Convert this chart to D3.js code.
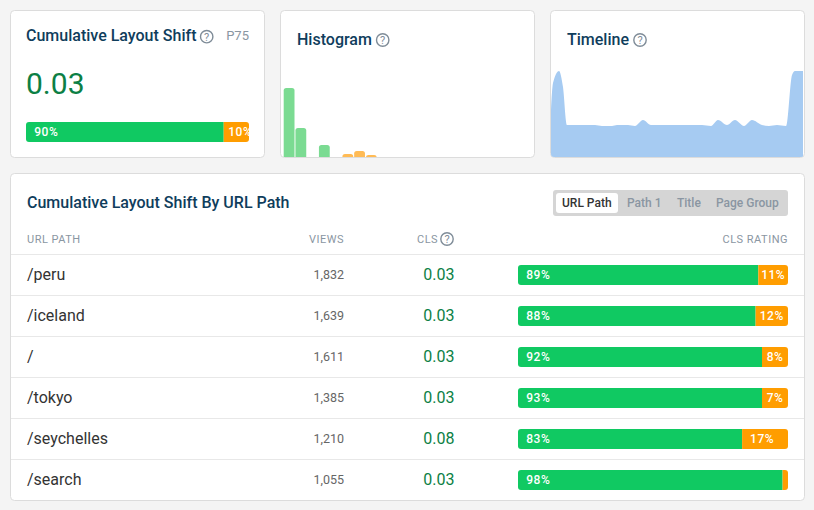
<!DOCTYPE html>
<html>
<head>
<meta charset="utf-8">
<script src="https://cdn.jsdelivr.net/npm/d3@7"></script>
<style>
body{margin:0;background:#f4f4f4;font-family:Roboto,sans-serif;overflow:hidden}
svg{display:block}
</style>
</head>
<body>
<div id="chart"></div>
<script>
// table rows
var paths=['/peru','/iceland','/','/tokyo','/seychelles','/search'];
var views=[1832,1639,1611,1385,1210,1055];
var cls=[0.03,0.03,0.03,0.03,0.08,0.03];
var goodPct=[89,88,92,93,83,98];
var poorPct=[11,12,8,7,17,2];
var tableHeaders=['URL PATH','VIEWS','CLS','CLS RATING'];
var toggleLabels=['URL Path','Path 1','Title','Page Group'];

// summary card
var summaryValue=0.03;
var summaryGood=90;
var summaryPoor=10;

// histogram, bin index and share of views
var histBins=[0,1,3,5,6,7];
var histValues=[69,29,12,3,6,2];
var histColors=['good','good','good','poor','poor','poor'];

// timeline
var timeX=[0,2,8,12,16,44,51,61,66,77,84,92,100,151,160,167,176,184,193,201,211,218,226,235,241,244,252];
var timeV=[47,74,86,70,32,32,31,31,32,32,31,37,32,32,31,37,32,37,31,37,32,31,32,31,82,86,86];

var green='#10c962', orange='#ff9d00', title='#0f3d5c', gray='#8a96a2', dark='#333';

var sv=d3.select('#chart').append('svg').attr('width',814).attr('height',510);
var defs=sv.append('defs');

function card(x,y,w,h,id){
    sv.append('rect').attr('x',x-0.5).attr('y',y-0.5).attr('width',w).attr('height',h).attr('rx',4)
        .attr('fill','#fff').attr('stroke','#dcdcdc');
    defs.append('clipPath').attr('id',id).append('rect').attr('x',x).attr('y',y).attr('width',w-1).attr('height',h-1).attr('rx',3);
}

function helpIcon(cx,cy){
    var g=sv.append('g');
    g.append('circle').attr('cx',cx).attr('cy',cy).attr('r',6.2).attr('fill','none').attr('stroke','#7f8c98').attr('stroke-width',1.4);
    g.append('text').attr('x',cx).attr('y',cy+3.8).attr('text-anchor','middle').attr('font-size',11).attr('fill','#7f8c98').text('?');
}

function heading(x,y,txt){
    return sv.append('text').attr('x',x).attr('y',y).attr('font-size',16).attr('font-weight',500)
        .attr('fill',title).text(txt);
}

// stacked rating bar, orange keeps a minimum width so its label fits
function ratingBar(id,x0,x1,y,good,poor,minPoor,padPoor){
    var x=d3.scaleLinear().domain([0,100]).range([x0,x1]);
    var wPoor=x(poor)-x(0);
    if(poor>=5) wPoor=Math.max(wPoor,minPoor);
    var split=x1-wPoor;
    defs.append('clipPath').attr('id',id).append('rect').attr('x',x0).attr('y',y).attr('width',x1-x0).attr('height',20).attr('rx',3);
    var g=sv.append('g').attr('clip-path','url(#'+id+')');
    g.append('rect').attr('x',x0).attr('y',y).attr('width',split-x0).attr('height',20).attr('fill',green);
    g.append('rect').attr('x',split).attr('y',y).attr('width',wPoor).attr('height',20).attr('fill',orange);
    g.append('text').attr('x',x0+8.3).attr('y',y+14).attr('font-size',12).attr('font-weight',500).attr('letter-spacing',0.5).attr('fill','#fff').text(good+'%');
    if(poor>=5){
        var t=g.append('text').attr('x',split).attr('y',y+14).attr('font-size',12).attr('font-weight',500).attr('letter-spacing',0.5).attr('fill','#fff').text(poor+'%');
        var tw=t.node().getComputedTextLength();
        var pad=padPoor!==undefined?padPoor:(wPoor>=40?8:(wPoor-tw)/2);
        t.attr('x',split+pad);
    }
}

// --- summary card
card(11,11,254,147,'c1');
heading(26,41,'Cumulative Layout Shift');
helpIcon(206.7,36.7);
sv.append('text').attr('x',249).attr('y',40).attr('text-anchor','end').attr('font-size',13).attr('fill',gray).text('P75');
sv.append('text').attr('x',26).attr('y',94).attr('font-size',30).attr('fill','#0c7f45').text(summaryValue.toFixed(2));
ratingBar('barTop',26,249,122,summaryGood,summaryPoor,25.3,4.6);

// --- histogram
card(281,11,254,147,'c2');
heading(297,45,'Histogram');
helpIcon(382.7,40);
var hx=d3.scaleBand().domain(d3.range(21)).range([283.7,283.7+11.7*21]).paddingInner(0.08);
var hy=d3.scaleLinear().domain([0,69]).range([157,88]);
sv.append('g').attr('clip-path','url(#c2)').selectAll('rect').data(histBins).join('rect')
    .attr('x',function(d){return hx(d);})
    .attr('y',function(d,i){return hy(histValues[i]);})
    .attr('width',hx.bandwidth())
    .attr('height',function(d,i){return hy(0)-hy(histValues[i])+6;})
    .attr('rx',2.5)
    .attr('fill',function(d,i){return histColors[i]=='good'?'#7bdb92':'#ffbb55';});

// --- timeline
card(551,11,254,147,'c3');
heading(567,45,'Timeline');
helpIcon(640,40);
var tx=d3.scaleLinear().domain([0,252]).range([551,803]);
var ty=d3.scaleLinear().domain([0,86]).range([157,71]);
var area=d3.area().x(function(d,i){return tx(timeX[i]);}).y0(ty(0)).y1(function(d){return ty(d);}).curve(d3.curveMonotoneX);
sv.append('path').attr('clip-path','url(#c3)').attr('d',area(timeV)).attr('fill','#a6cbf2');

// --- table
card(11,174,794,327,'c4');
heading(27,208,'Cumulative Layout Shift By URL Path');

sv.append('rect').attr('x',553).attr('y',190).attr('width',235).attr('height',26).attr('rx',3).attr('fill','#d5d5d5');
sv.append('rect').attr('x',556).attr('y',193).attr('width',62).attr('height',20).attr('rx',3).attr('fill','#fff');
var toggleX=[562,627,677,716];
sv.append('g').selectAll('text').data(toggleLabels).join('text')
    .attr('x',function(d,i){return toggleX[i];}).attr('y',207)
    .attr('font-size',12).attr('font-weight',500)
    .attr('fill',function(d,i){return i==0?dark:gray;}).text(function(d){return d;});

var headX=[27,344,417,788], headAnchor=['start','end','start','end'];
sv.append('g').selectAll('text').data(tableHeaders).join('text')
    .attr('x',function(d,i){return headX[i];}).attr('y',243)
    .attr('text-anchor',function(d,i){return headAnchor[i];})
    .attr('font-size',11).attr('letter-spacing',0.5).attr('fill',gray).text(function(d){return d;});
helpIcon(447,239);

var ry=d3.scaleBand().domain(paths).range([254,500]);
var fmt=d3.format(',');
var rows=sv.append('g').selectAll('g').data(paths).join('g')
    .attr('transform',function(d){return 'translate(0,'+ry(d)+')';});
rows.append('line').attr('x1',11).attr('x2',804).attr('y1',0.5).attr('y2',0.5).attr('stroke','#e8e8e8');
rows.append('text').attr('x',27).attr('y',26).attr('font-size',16).attr('fill',dark).text(function(d){return d;});
rows.append('text').attr('x',344).attr('y',25).attr('text-anchor','end').attr('font-size',12.5).attr('fill','#666')
    .text(function(d,i){return fmt(views[i]);});
rows.append('text').attr('x',454.5).attr('y',26).attr('text-anchor','end').attr('font-size',16).attr('fill','#0c7f45')
    .text(function(d,i){return cls[i].toFixed(2);});

paths.forEach(function(p,i){
    ratingBar('bar'+i,518,788,ry(p)+11,goodPct[i],poorPct[i],26);
});
</script>
</body>
</html>
